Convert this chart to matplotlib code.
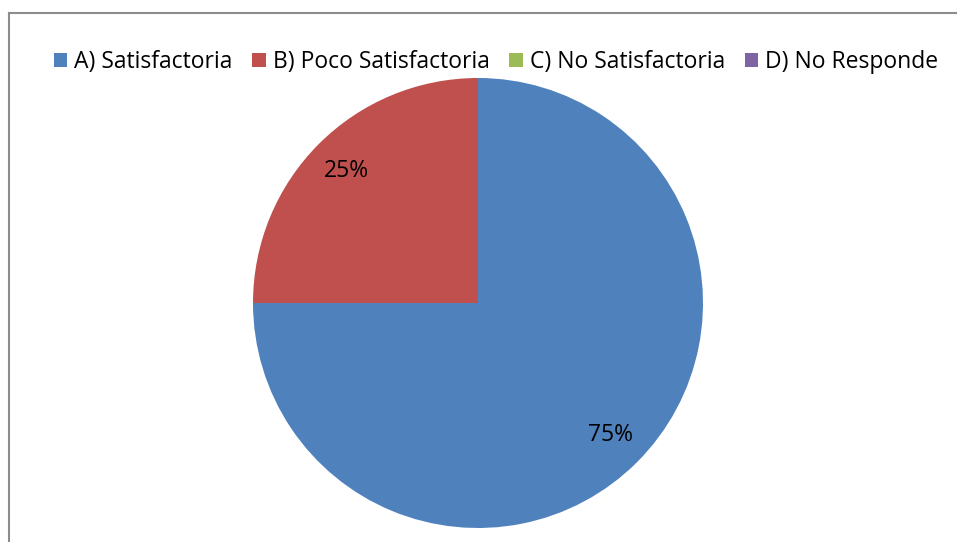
import matplotlib
matplotlib.use("Agg")
import matplotlib.pyplot as plt
from matplotlib.patches import Patch
from matplotlib.lines import Line2D

categories = ["A) Satisfactoria", "B) Poco Satisfactoria", "C) No Satisfactoria", "D) No Responde"]
values = [75, 25, 0, 0]
colors = ["#4F81BD", "#C0504D", "#9BBB59", "#8064A2"]

plt.rcParams["font.family"] = ["Open Sans", "DejaVu Sans"]

W, H = 957, 542
fig = plt.figure(figsize=(W / 100, H / 100), dpi=100)
fig.patch.set_facecolor("white")

# Pie occupies a square axes centred at (478, 303) px with radius 225 px
cx, cy, r = 478, 303, 225
ax = fig.add_axes([(cx - r) / W, (H - cy - r) / H, 2 * r / W, 2 * r / H])


def fmt(p):
    return f"{p:.0f}%" if p > 0 else ""


wedges, texts, autotexts = ax.pie(
    values, colors=colors, startangle=90, counterclock=False,
    radius=1, autopct=fmt, pctdistance=0.83,
    textprops={"fontsize": 16.5, "color": "black"},
    wedgeprops={"linewidth": 0},
)
ax.set_xlim(-1, 1)
ax.set_ylim(-1, 1)
ax.set_aspect("equal")
ax.axis("off")

# Chart frame (left and top edges)
fig.add_artist(Line2D([8.5 / W, 8.5 / W], [0, 1 - 12.5 / H], transform=fig.transFigure,
                      color="#8c8c8c", linewidth=1.5))
fig.add_artist(Line2D([8.5 / W, 1], [1 - 12.5 / H, 1 - 12.5 / H], transform=fig.transFigure,
                      color="#8c8c8c", linewidth=1.5))

handles = [Patch(facecolor=c, edgecolor="none") for c in colors]
fig.legend(handles, categories, loc="center", bbox_to_anchor=(496 / W, 1 - 62 / H),
           ncol=4, frameon=False, fontsize=16.5, handlelength=0.6, handleheight=0.6,
           handletextpad=0.3, columnspacing=0.85, borderpad=0)

fig.savefig("out.png", dpi=100)
